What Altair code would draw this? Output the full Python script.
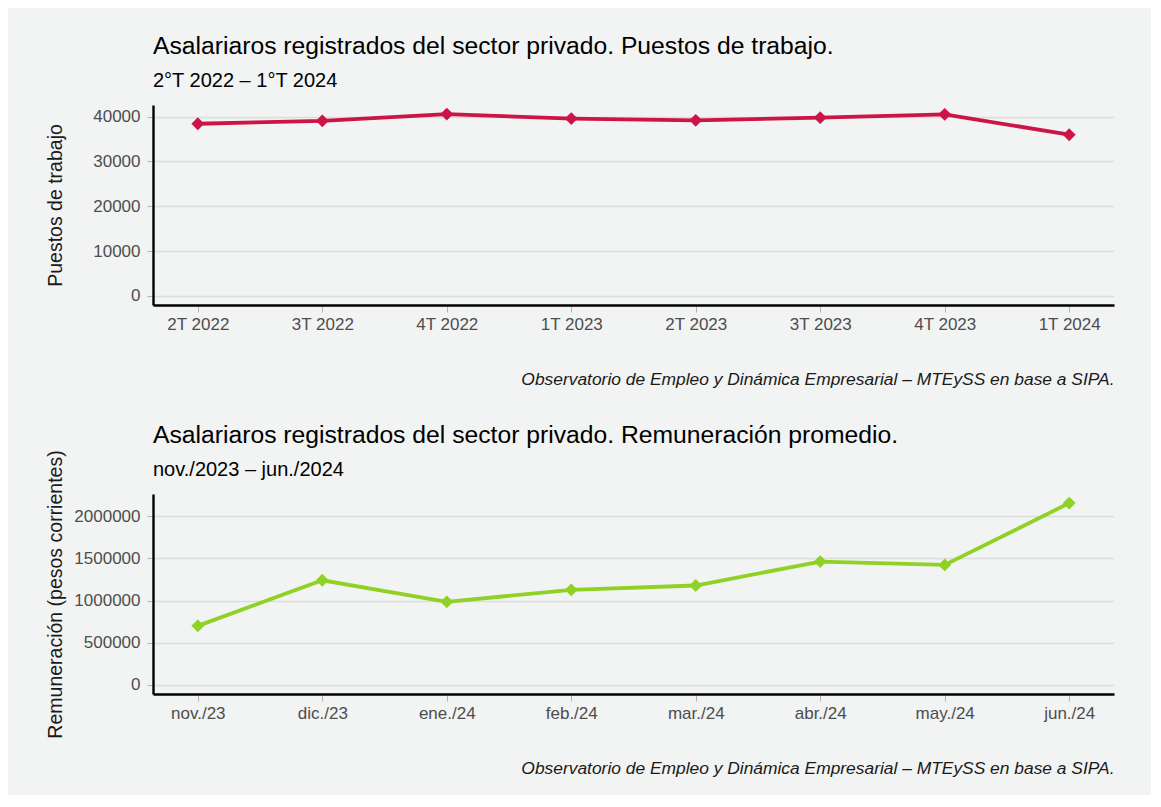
import altair as alt
import pandas as pd

# ---- data ----
top_periods = ["2T 2022", "3T 2022", "4T 2022", "1T 2023", "2T 2023", "3T 2023", "4T 2023", "1T 2024"]
top_values = [38400, 39050, 40550, 39550, 39150, 39750, 40500, 35950]

bot_periods = ["nov./23", "dic./23", "ene./24", "feb./24", "mar./24", "abr./24", "may./24", "jun./24"]
bot_values = [700000, 1240000, 985000, 1127000, 1178000, 1462000, 1422000, 2155000]

top_ticks = [0, 10000, 20000, 30000, 40000]
bot_ticks = [0, 500000, 1000000, 1500000, 2000000]

top_title = "Asalariaros registrados del sector privado. Puestos de trabajo."
top_subtitle = "2°T 2022 – 1°T 2024"
bot_title = "Asalariaros registrados del sector privado. Remuneración promedio."
bot_subtitle = "nov./2023 – jun./2024"
caption = "Observatorio de Empleo y Dinámica Empresarial – MTEySS en base a SIPA."

RED = "#cd1446"
GREEN = "#8fd125"
BG = "#f2f3f3"
FONT = "Liberation Sans"

W, H = 961, 200


def panel(periods, values, ticks, ytitle, color, title, subtitle):
    df = pd.DataFrame({"periodo": periods, "valor": values})
    vmax = max(values)
    dom = [-0.05 * vmax, 1.05 * vmax]
    x = alt.X(
        "periodo:N",
        sort=periods,
        scale=alt.Scale(type="point", padding=0.36),
        axis=alt.Axis(
            title=caption,
            titleFont=FONT,
            titleFontSize=17.4,
            titleFontStyle="italic",
            titleFontWeight="normal",
            titleColor="#1a1a1a",
            titleX=W,
            titleY=79,
            titleAlign="right",
            titleAnchor="end",
            titleBaseline="alphabetic",
            labelAngle=0,
            labelFont=FONT,
            labelFontSize=17,
            labelColor="#4d4d4d",
            labelPadding=4,
            tickSize=7,
            tickColor="#b3b3b3",
            tickWidth=1,
            domainColor="#000000",
            domainWidth=2.4,
            grid=False,
        ),
    )
    y = alt.Y(
        "valor:Q",
        scale=alt.Scale(domain=dom, nice=False, zero=False),
        axis=alt.Axis(
            title=ytitle,
            values=ticks,
            format="d",
            titleFont=FONT,
            titleFontSize=19.5,
            titleFontWeight="normal",
            titleColor="#1a1a1a",
            titleX=-88,
            titleBaseline="bottom",
            labelFont=FONT,
            labelFontSize=17,
            labelColor="#4d4d4d",
            labelPadding=7,
            tickSize=6,
            tickColor="#b3b3b3",
            tickWidth=1,
            domainColor="#000000",
            domainWidth=2.4,
            grid=True,
            gridColor="#dcdcdc",
            gridWidth=1.4,
        ),
    )
    base = alt.Chart(df).encode(x=x, y=y)
    line = base.mark_line(color=color, strokeWidth=3.8)
    pts = base.mark_point(shape="diamond", filled=True, color=color, size=165, opacity=1)

    tdf = pd.DataFrame({"t": [title]})
    sdf = pd.DataFrame({"t": [subtitle]})
    ttl = alt.Chart(tdf).mark_text(
        align="left", baseline="alphabetic", font=FONT, fontSize=24.7, color="#000000"
    ).encode(text="t:N", x=alt.value(0), y=alt.value(-51))
    sub = alt.Chart(sdf).mark_text(
        align="left", baseline="alphabetic", font=FONT, fontSize=20, color="#000000"
    ).encode(text="t:N", x=alt.value(0), y=alt.value(-18))

    return alt.layer(line, pts, ttl, sub).properties(width=W, height=H)


top = panel(top_periods, top_values, top_ticks, "Puestos de trabajo", RED, top_title, top_subtitle)
bot = panel(bot_periods, bot_values, bot_ticks, "Remuneración (pesos corrientes)", GREEN, bot_title, bot_subtitle)

chart = (
    alt.vconcat(top, bot, spacing=35)
    .properties(background=BG, padding={"left": 36, "top": 26, "right": 37, "bottom": 18})
    .configure_view(stroke=None)
)

chart.save("out.html", embed_options={"renderer": "svg", "actions": False})
